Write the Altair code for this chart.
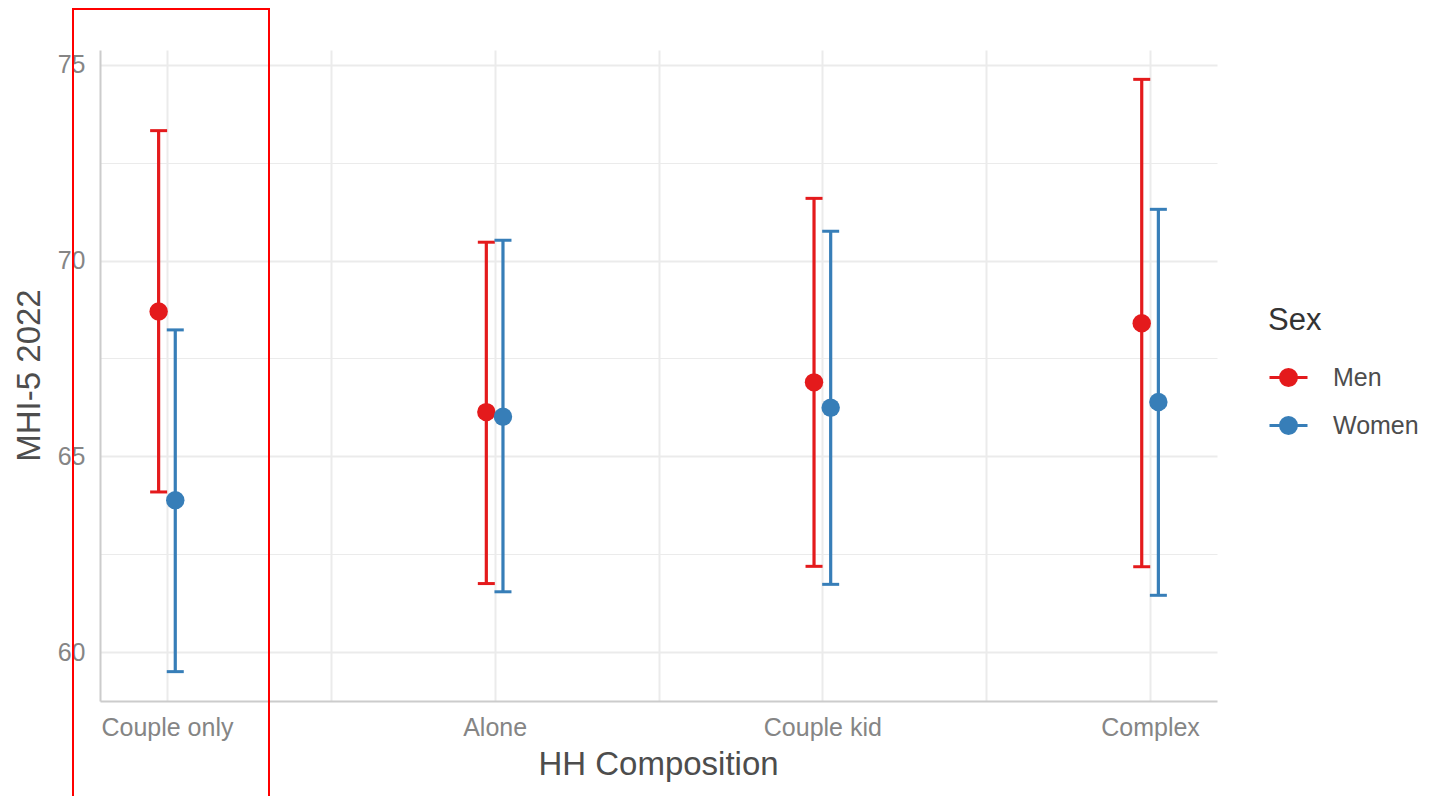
import altair as alt
import pandas as pd

# ---- data ----
categories = ["Couple only", "Alone", "Couple kid", "Complex"]
sexes = ["Men", "Women"]
men_mean = [68.70, 66.13, 66.89, 68.40]
men_lo = [64.09, 61.75, 62.19, 62.18]
men_hi = [73.32, 70.47, 71.59, 74.63]
women_mean = [63.88, 66.01, 66.24, 66.39]
women_lo = [59.50, 61.54, 61.73, 61.45]
women_hi = [68.23, 70.52, 70.75, 71.31]
colors = ["#E41A1C", "#377EB8"]

rows = []
for i, c in enumerate(categories):
    rows.append({"hh": c, "sex": "Men", "mean": men_mean[i], "lo": men_lo[i], "hi": men_hi[i]})
    rows.append({"hh": c, "sex": "Women", "mean": women_mean[i], "lo": women_lo[i], "hi": women_hi[i]})
df = pd.DataFrame(rows)

cat_js = "[" + ",".join("'" + c + "'" for c in categories) + "]"
dodge = 0.0254

W, H = 1117, 651
FONT = "Liberation Sans"

color_scale = alt.Scale(domain=sexes, range=colors)

legend_path = ("M-1,0H1M-0.42,0A0.42,0.42,0,1,0,0.42,0A0.42,0.42,0,1,0,-0.42,0Z")

legend = alt.Legend(
    orient="none", legendX=1168, legendY=256, title="Sex",
    titleFontSize=31, titleColor="#333333", titleFontWeight="normal", titleFont=FONT,
    titlePadding=20,
    labelFontSize=25, labelColor="#4d4d4d", labelFont=FONT, labelOffset=24,
    symbolType=legend_path, symbolSize=1444, symbolStrokeWidth=3, symbolOpacity=1,
    rowPadding=13, padding=0,
)

x_axis = alt.Axis(
    values=[0, 0.5, 1, 1.5, 2, 2.5, 3],
    labelExpr="datum.value % 1 === 0 ? " + cat_js + "[datum.value] : ''",
    ticks=False, grid=True, gridColor="#ebebeb", gridWidth=2,
    domainColor="#cccccc", domainWidth=2,
    labelFontSize=25, labelColor="#858585", labelFont=FONT, labelPadding=14,
    labelOverlap=False, labelFlush=False,
    title="HH Composition", titleFontSize=33, titleColor="#4d4d4d",
    titleFontWeight="normal", titleFont=FONT,
    titleX=558, titleY=73, titleBaseline="alphabetic",
)

y_axis = alt.Axis(
    values=[60, 62.5, 65, 67.5, 70, 72.5, 75],
    labelExpr="datum.value % 5 === 0 ? format(datum.value, 'd') : ''",
    ticks=False, grid=True, gridColor="#ebebeb",
    gridWidth={"condition": {"test": "datum.value % 5 === 0", "value": 2}, "value": 1},
    domainColor="#cccccc", domainWidth=2,
    labelFontSize=25, labelColor="#858585", labelFont=FONT, labelPadding=15,
    labelOverlap=False,
    title="MHI-5 2022", titleFontSize=33, titleColor="#4d4d4d",
    titleFontWeight="normal", titleFont=FONT,
    titleX=-61, titleY=325, titleBaseline="alphabetic", titleAngle=270,
)

x_enc = alt.X("xpos:Q", scale=alt.Scale(domain=[-0.2043, 3.2043], nice=False, zero=False), axis=x_axis)
y_scale = alt.Scale(domain=[58.75, 75.38], nice=False, zero=False)

base = alt.Chart(df).transform_calculate(
    xi="indexof(" + cat_js + ", datum.hh)"
).transform_calculate(
    xpos="datum.xi + (datum.sex === 'Men' ? -%f : %f)" % (dodge, dodge)
)

rules = base.mark_rule(strokeWidth=3.2, opacity=1).encode(
    x=x_enc,
    y=alt.Y("lo:Q", scale=y_scale, axis=y_axis),
    y2="hi:Q",
    color=alt.Color("sex:N", scale=color_scale, legend=legend),
)
cap_lo = base.mark_tick(orient="horizontal", size=17, thickness=3, opacity=1).encode(
    x="xpos:Q", y="lo:Q", color=alt.Color("sex:N", scale=color_scale, legend=legend),
)
cap_hi = base.mark_tick(orient="horizontal", size=17, thickness=3, opacity=1).encode(
    x="xpos:Q", y="hi:Q", color=alt.Color("sex:N", scale=color_scale, legend=legend),
)
points = base.mark_point(filled=True, size=340, opacity=1).encode(
    x="xpos:Q", y="mean:Q", color=alt.Color("sex:N", scale=color_scale, legend=legend),
)

box = alt.Chart(pd.DataFrame({"a": [0]})).mark_rect(
    fill="transparent", fillOpacity=0, stroke="#ff0000", strokeWidth=2
).encode(
    x=alt.value(-27), x2=alt.value(169), y=alt.value(-41), y2=alt.value(800)
)

chart = alt.layer(rules, cap_lo, cap_hi, points, box).properties(
    width=W, height=H,
    autosize=alt.AutoSizeParams(type="none"),
    padding={"left": 92, "top": 42, "right": 206, "bottom": 95},
).configure(
    font=FONT, view=alt.ViewConfig(stroke="transparent", strokeWidth=0)
)

chart.save("out.html", embed_options={"renderer": "svg", "actions": False})
